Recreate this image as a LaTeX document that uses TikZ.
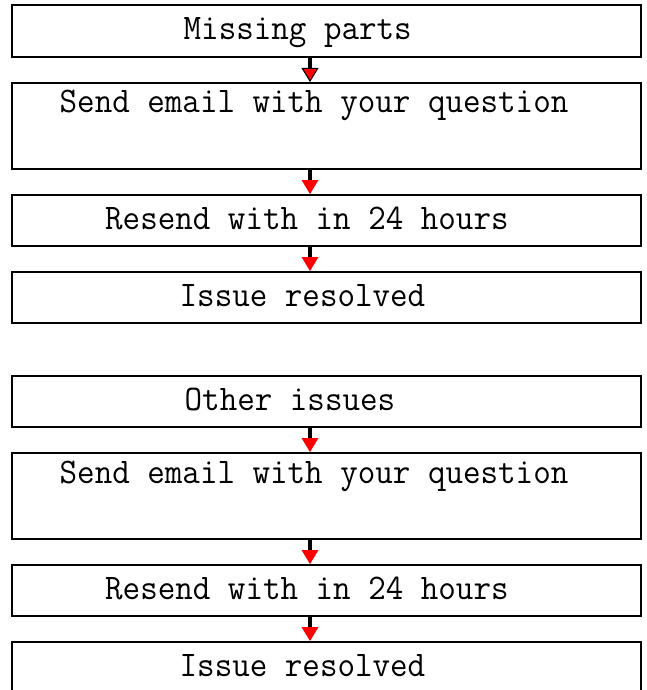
\documentclass[tikz,border=0pt]{standalone}
\usepackage{graphicx}
\usetikzlibrary{arrows.meta}
\newcommand{\sq}[1]{\scalebox{0.946}[1]{#1}}
\begin{document}
\begin{tikzpicture}[x=1pt,y=-1pt,
  box/.style={draw=black,line width=2pt,rectangle,inner sep=0pt,minimum width=629pt},
  txt/.style={anchor=base west,inner sep=0pt,font=\fontsize{36}{40}\selectfont\ttfamily},
  conn/.style={draw=black,line width=4pt,-{Triangle[length=14pt,width=17pt,color=red,line width=0pt]}},
  connb/.style={draw=black,line width=4pt,-{Triangle[length=14pt,width=17pt,color=black,fill=red,line width=1pt]}}]
\useasboundingbox (0,0) rectangle (647,690);
\fill[white] (0,0) rectangle (647,690);
\coordinate (ax) at (310,0);
% first group
\node[box,minimum height=52pt] (b1) at (326.5,31) {};
\node[box,minimum height=86pt] (b2) at (326.5,126) {};
\node[box,minimum height=51pt] (b3) at (326.5,220.5) {};
\node[box,minimum height=51pt] (b4) at (326.5,297.5) {};
\node[txt] (t1) at (183.5,40) {\sq{Missing parts}};
\node[txt] (t2) at (59.5,113) {\sq{Send email with your question}};
\node[txt] (t3) at (105,229) {\sq{Resend with in 24 hours}};
\node[txt] (t4) at (179.5,306) {\sq{Issue resolved}};
\draw[connb] (b1.south -| ax) -- (b2.north -| ax);
\draw[conn] (b2.south -| ax) -- (b3.north -| ax);
\draw[conn] (b3.south -| ax) -- (b4.north -| ax);
% second group
\node[box,minimum height=51pt] (b5) at (326.5,401.5) {};
\node[box,minimum height=86pt] (b6) at (326.5,496) {};
\node[box,minimum height=51pt] (b7) at (326.5,590.5) {};
\node[box,minimum height=51pt] (b8) at (326.5,667.5) {};
\node[txt] (t5) at (184.5,410) {\sq{Other issues}};
\node[txt] (t6) at (59.5,483) {\sq{Send email with your question}};
\node[txt] (t7) at (105,599) {\sq{Resend with in 24 hours}};
\node[txt] (t8) at (179.5,676) {\sq{Issue resolved}};
\draw[conn] (b5.south -| ax) -- (b6.north -| ax);
\draw[conn] (b6.south -| ax) -- (b7.north -| ax);
\draw[conn] (b7.south -| ax) -- (b8.north -| ax);
\end{tikzpicture}
\end{document}
